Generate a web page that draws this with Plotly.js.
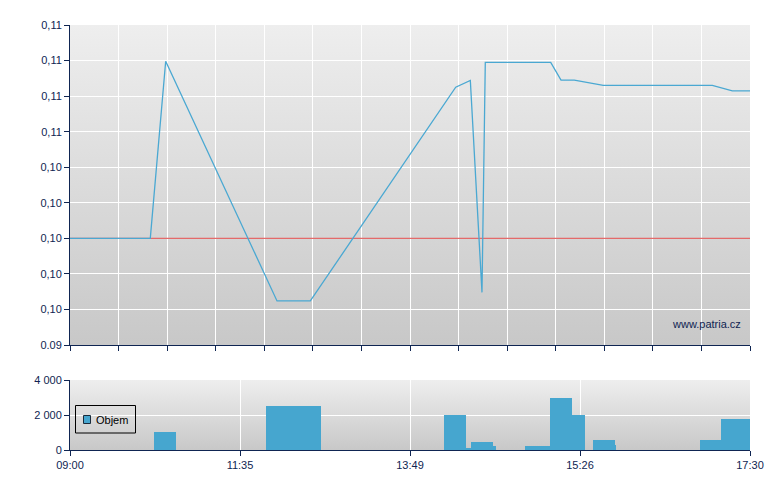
<!DOCTYPE html>
<html>
<head>
<meta charset="utf-8">
<script src="https://cdn.plot.ly/plotly-3.0.1.min.js"></script>
<style>html,body{margin:0;padding:0;background:#fff;}#chart{width:780px;height:490px;}</style>
</head>
<body>
<div id="chart"></div>
<script>
// Price line (x = position on the session axis, 0..14)
var priceX = [0, 1.653, 1.970, 4.262, 4.948, 7.941, 8.242, 8.482, 8.550, 9.897, 10.109, 10.383, 10.980, 13.224, 13.636, 14];
var priceY = [0.1020, 0.1020, 0.10698, 0.10024, 0.10024, 0.10625, 0.10644, 0.10048, 0.10695, 0.10695, 0.10645, 0.10645, 0.1063, 0.1063, 0.10615, 0.10615];
var refPrice = 0.102;

// Volume bars (start/end on the same axis)
var volStart = [1.729, 4.035, 7.700, 8.147, 8.256, 8.703, 9.368, 9.882, 10.329, 10.768, 11.221, 12.971, 13.403];
var volEnd   = [2.182, 5.168, 8.147, 8.256, 8.703, 8.771, 9.882, 10.329, 10.603, 11.221, 11.242, 13.403, 14.000];
var volume   = [1040, 2540, 2000, 110, 460, 230, 240, 3000, 2000, 580, 290, 580, 1800];

// Tick labels
var priceTickVals = [0.099, 0.100, 0.101, 0.102, 0.103, 0.104, 0.105, 0.106, 0.107, 0.108];
var priceTickText = ['0.09', '0,10', '0,10', '0,10', '0,10', '0,10', '0,11', '0,11', '0,11', '0,11'];
var timeTickVals = [0, 3.5, 7, 10.5, 14];
var timeTickText = ['09:00', '11:35', '13:49', '15:26', '17:30'];
var volTickVals = [0, 2000, 4000];
var volTickText = ['0', '2 000', '4 000'];

var navy = '#0f2552';
var barColor = '#46a6cf';
var volCenter = volStart.map(function(s, i){ return (s + volEnd[i]) / 2; });
var volWidth = volStart.map(function(s, i){ return volEnd[i] - s; });

var grad = function(top, bottom){
  var svg = '<svg xmlns="http://www.w3.org/2000/svg" width="10" height="100" preserveAspectRatio="none">' +
    '<defs><linearGradient id="g" x1="0" y1="0" x2="0" y2="1"><stop offset="0" stop-color="' + top + '"/><stop offset="1" stop-color="' + bottom + '"/></linearGradient></defs>' +
    '<rect width="10" height="100" fill="url(#g)"/></svg>';
  return 'data:image/svg+xml;base64,' + btoa(svg);
};

var W = 680, H = 425; // plot area size in px
var px = function(x){ return (x - 70) / W; };
var py = function(y){ return (450 - y) / H; };
var mainBottom = py(345);
var volTop = py(380);

var traces = [
  {x: [0, 14], y: [refPrice, refPrice], type: 'scatter', mode: 'lines',
   line: {color: '#e46a6a', width: 1.2}, xaxis: 'x', yaxis: 'y', showlegend: false, hoverinfo: 'skip'},
  {x: priceX, y: priceY, type: 'scatter', mode: 'lines',
   line: {color: '#4aa8d2', width: 1.3}, xaxis: 'x', yaxis: 'y', showlegend: false, name: 'Cena'},
  {x: volCenter, y: volume, width: volWidth, type: 'bar', name: 'Objem',
   marker: {color: barColor, line: {width: 0}}, xaxis: 'x2', yaxis: 'y2', showlegend: false}
];

var layout = {
  width: 780, height: 490,
  margin: {l: 70, r: 30, t: 25, b: 40},
  paper_bgcolor: '#ffffff',
  plot_bgcolor: 'rgba(0,0,0,0)',
  font: {family: 'Liberation Sans, Arial, sans-serif', size: 11, color: navy},
  showlegend: false,
  bargap: 0,
  xaxis: {domain: [0, 1], range: [0, 14], tickvals: [0,1,2,3,4,5,6,7,8,9,10,11,12,13,14],
          showticklabels: false, ticks: 'outside', ticklen: 5, tickcolor: navy,
          showgrid: true, gridcolor: '#ffffff', gridwidth: 1, zeroline: false,
          showline: true, linecolor: navy, linewidth: 1, anchor: 'y', fixedrange: true},
  yaxis: {domain: [mainBottom, 1], range: [0.099, 0.108], tickvals: priceTickVals, ticktext: priceTickText,
          ticks: 'outside', ticklen: 5, tickcolor: navy, showgrid: true, gridcolor: '#ffffff', gridwidth: 1,
          zeroline: false, showline: true, linecolor: navy, linewidth: 1, anchor: 'x', fixedrange: true},
  xaxis2: {domain: [0, 1], range: [0, 14], tickvals: timeTickVals, ticktext: timeTickText,
           ticks: 'outside', ticklen: 5, tickcolor: navy, showgrid: true, gridcolor: '#ffffff', gridwidth: 1,
           zeroline: false, showline: true, linecolor: navy, linewidth: 1, anchor: 'y2', fixedrange: true},
  yaxis2: {domain: [0, volTop], range: [0, 4000], tickvals: volTickVals, ticktext: volTickText,
           ticks: 'outside', ticklen: 5, tickcolor: navy, showgrid: true, gridcolor: '#ffffff', gridwidth: 1,
           zeroline: false, showline: true, linecolor: navy, linewidth: 1, anchor: 'x2', fixedrange: true},
  images: [
    {source: grad('#eeeeee', '#c8c8c8'), xref: 'paper', yref: 'paper', x: 0, y: 1,
     sizex: 1, sizey: 1 - mainBottom, xanchor: 'left', yanchor: 'top', sizing: 'stretch', layer: 'below'},
    {source: grad('#eeeeee', '#c8c8c8'), xref: 'paper', yref: 'paper', x: 0, y: volTop,
     sizex: 1, sizey: volTop, xanchor: 'left', yanchor: 'top', sizing: 'stretch', layer: 'below'}
  ],
  shapes: [
    // legend box
    {type: 'rect', xref: 'paper', yref: 'paper', x0: px(75.5), x1: px(135.5), y0: py(433), y1: py(405.5),
     line: {color: '#000000', width: 1}, fillcolor: 'rgba(0,0,0,0)', layer: 'above'},
    // legend swatch
    {type: 'rect', xref: 'paper', yref: 'paper', x0: px(83.5), x1: px(90.5), y0: py(423.5), y1: py(415.5),
     line: {color: '#1a2a3a', width: 1}, fillcolor: barColor, layer: 'above'}
  ],
  annotations: [
    {text: 'Objem', xref: 'paper', yref: 'paper', x: px(94), y: py(420),
     xanchor: 'left', yanchor: 'middle', showarrow: false, font: {size: 11, color: '#000000'}},
    {text: 'www.patria.cz', xref: 'paper', yref: 'paper', x: 0.99, y: py(324),
     xanchor: 'right', yanchor: 'middle', showarrow: false, font: {size: 11, color: navy}}
  ]
};

Plotly.newPlot('chart', traces, layout, {displayModeBar: false, staticPlot: true});
</script>
</body>
</html>
